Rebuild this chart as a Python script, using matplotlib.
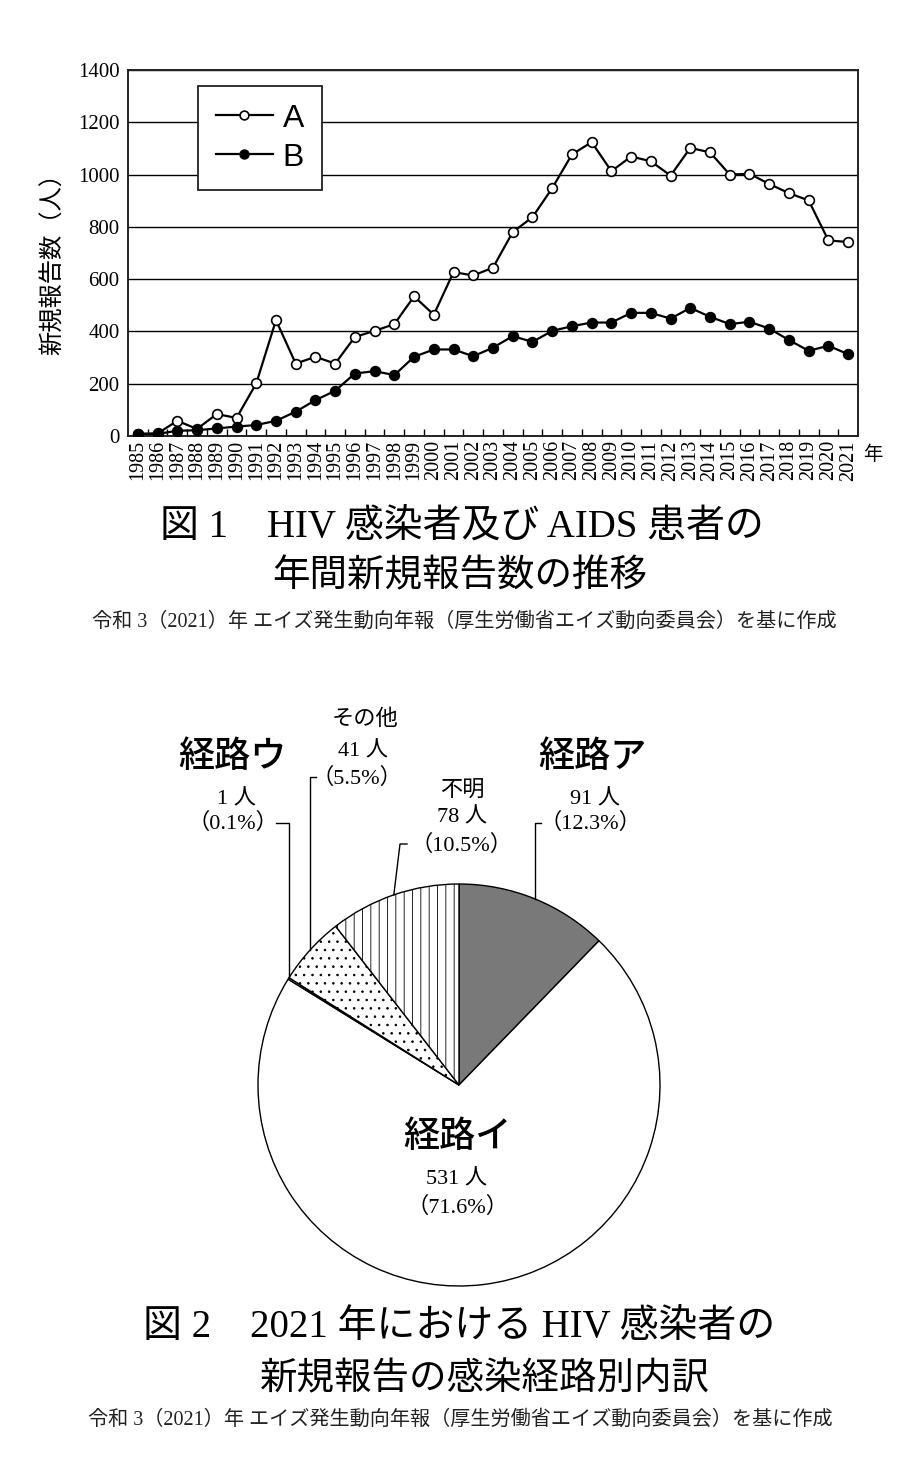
import numpy as np
import matplotlib
matplotlib.use("Agg")
import matplotlib.pyplot as plt

plt.rcParams['font.family'] = ['Liberation Serif', 'Noto Sans CJK JP']
plt.rcParams['hatch.linewidth'] = 0.6

# 図1 データ（読み取り値）
years = list(range(1985, 2022))
hiv_a = [8, 10, 58, 27, 84, 69, 201, 443, 277, 303, 277, 379, 402, 428, 534, 464,
         627, 614, 644, 780, 837, 948, 1077, 1124, 1013, 1069, 1051, 996, 1102,
         1085, 1000, 1003, 964, 929, 901, 748, 742]
aids_b = [8, 8, 20, 22, 29, 36, 42, 58, 93, 137, 173, 239, 248, 233, 303, 331,
          331, 305, 338, 382, 360, 402, 420, 434, 434, 471, 471, 449, 490, 456,
          428, 437, 411, 367, 326, 345, 313]
y_ticks = [0, 200, 400, 600, 800, 1000, 1200, 1400]

# 図2 データ
routes = ['経路ア', '経路イ', '経路ウ', 'その他', '不明']
counts = [91, 531, 1, 41, 78]

W, H = 904, 1470
fig = plt.figure(figsize=(W / 100, H / 100), dpi=100)


def fx(px):
    return px / W


def fy(py):
    return 1 - py / H


# ---------------- 図1 折れ線 ----------------
ax = fig.add_axes([fx(128), fy(436), (858 - 128) / W, (436 - 70) / H])
ax.plot(years, hiv_a, '-o', color='black', lw=1.6, ms=7, mfc='white', mec='black',
        mew=1.2, label='A', zorder=3)
ax.plot(years, aids_b, '-o', color='black', lw=1.6, ms=7, mfc='black', mec='black',
        mew=1.2, label='B', zorder=4)
ax.set_xlim(1984.5, 2021.5)
ax.set_ylim(0, 1400)
ax.set_yticks(y_ticks)
ax.set_yticklabels([str(v) for v in y_ticks], fontsize=15)
ax.set_xticks(years)
ax.set_xticklabels([str(y) for y in years], rotation=90, fontsize=14.5, va='top')
ax.set_xticks(np.arange(1985.5, 2021, 1), minor=True)
ax.tick_params(axis='x', which='major', length=0, pad=3)
ax.tick_params(axis='x', which='minor', direction='in', length=5, width=1)
ax.tick_params(axis='y', length=0, pad=6)
ax.yaxis.grid(True, color='black', lw=1.0)
ax.set_axisbelow(True)
for s in ax.spines.values():
    s.set_linewidth(1.4)
    s.set_color('#222222')

leg = ax.legend(loc='upper left', bbox_to_anchor=((198 - 128) / 730, (436 - 86) / 366),
                borderaxespad=0, prop={'family': 'Liberation Sans', 'size': 23},
                handlelength=1.8, handletextpad=0.3, labelspacing=0.28,
                borderpad=0.55, fancybox=False, framealpha=1, edgecolor='#222222',
                markerscale=0.9)
leg.get_frame().set_linewidth(1.3)
leg.set_zorder(10)

fig.text(fx(53), fy(258), '新規報告数（人）', rotation=90, ha='center', va='center',
         fontsize=17.5, family='Noto Sans CJK JP')
fig.text(fx(873), fy(455), '年', ha='center', va='center', fontsize=14,
         family='Noto Sans CJK JP')

fig.text(fx(462), fy(527), '図 1　HIV 感染者及び AIDS 患者の', ha='center', va='center',
         fontsize=28)
fig.text(fx(460), fy(577), '年間新規報告数の推移', ha='center', va='center', fontsize=27)
src = '令和 3（2021）年 エイズ発生動向年報（厚生労働省エイズ動向委員会）を基に作成'
fig.text(fx(464), fy(622), src, ha='center', va='center', fontsize=14.5, color='#222222')

# ---------------- 図2 円グラフ ----------------
cx, cy, r = 459, 1085, 201
half = 230
pax = fig.add_axes([fx(cx - half), fy(cy + half), 2 * half / W, 2 * half / H])

colors = ['#797979', 'white', 'white', 'white', 'white']
hatches = [None, None, None, '..', '||']
wedges, _ = pax.pie(counts, startangle=90, counterclock=False, colors=colors,
                    radius=1, wedgeprops={'edgecolor': 'black', 'linewidth': 1.0})
for w, h in zip(wedges, hatches):
    if h:
        w.set_hatch(h)
pax.set_xlim(-half / r, half / r)
pax.set_ylim(-half / r, half / r)
pax.axis('off')

total = sum(counts)
pcts = [c / total * 100 for c in counts]
cum = np.cumsum([0] + pcts)
mid_deg = [(cum[i] + cum[i + 1]) / 2 * 3.6 for i in range(len(counts))]


def to_d(px, py):
    return (px - cx) / r, (cy - py) / r


def mid_pt(i):
    t = np.deg2rad(mid_deg[i])
    return np.sin(t), np.cos(t)


# 引き出し線
lk = dict(color='black', lw=1.0, clip_on=False)
# 経路ア
mx, my = mid_pt(0)
_, ly = to_d(0, 823)
pax.plot([mx, mx, mx + 6 / r], [my, ly, ly], **lk)
# 不明
mx, my = mid_pt(4)
ex, ey = to_d(400, 844)
pax.plot([mx, ex, ex + 7 / r], [my, ey, ey], **lk)
# その他
mx, my = mid_pt(3)
_, ly = to_d(0, 777)
pax.plot([mx, mx, mx + 6 / r], [my, ly, ly], **lk)
# 経路ウ
mx, my = mid_pt(2)
_, ly = to_d(0, 823)
pax.plot([mx, mx, mx - 13 / r], [my, ly, ly], **lk)


def lab(px, py, s, size=16, **kw):
    fig.text(fx(px), fy(py), s, ha='center', va='center', fontsize=size, **kw)


big = dict(family='Noto Sans CJK JP', weight='medium')
# 経路ア
lab(592, 757, routes[0], 26, **big)
lab(595, 800, f'{counts[0]} 人')
lab(590, 823, f'（{pcts[0]:.1f}%）')
# 経路イ
lab(457, 1137, routes[1], 26, **big)
lab(457, 1180, f'{counts[1]} 人')
lab(457, 1207, f'（{pcts[1]:.1f}%）')
# 経路ウ
lab(232, 757, routes[2], 26, **big)
lab(237, 800, f'{counts[2]} 人')
lab(233, 823, f'（{pcts[2]:.1f}%）')
# その他
lab(365, 720, routes[3], 16)
lab(363, 752, f'{counts[3]} 人')
lab(357, 778, f'（{pcts[3]:.1f}%）')
# 不明
lab(462, 792, routes[4], 16)
lab(462, 818, f'{counts[4]} 人')
lab(462, 845, f'（{pcts[4]:.1f}%）')

fig.text(fx(459), fy(1327), '図 2　2021 年における HIV 感染者の', ha='center', va='center',
         fontsize=28)
fig.text(fx(485), fy(1380), '新規報告の感染経路別内訳', ha='center', va='center', fontsize=27)
fig.text(fx(460), fy(1420), src, ha='center', va='center', fontsize=14.5, color='#222222')

fig.savefig('out.png', dpi=100)
